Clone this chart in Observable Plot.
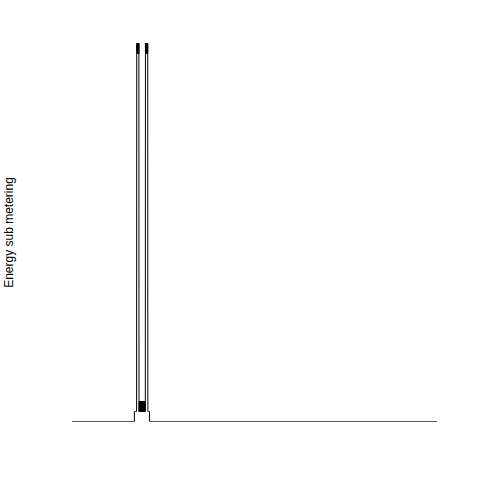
<!DOCTYPE html>
<html>
<head>
<meta charset="utf-8">
<script src="https://cdn.jsdelivr.net/npm/d3@7"></script>
<script src="https://cdn.jsdelivr.net/npm/@observablehq/plot@0.6"></script>
<style>
  html, body { margin: 0; padding: 0; background: white; }
</style>
</head>
<body>
<div id="chart"></div>
<script>
// Minute-by-minute readings over two days (2880 minutes); all minutes not listed read 0.
const totalMinutes = 2880;
const firstActiveMinute = 490;
const activeReadings = [
  1,1,1,1,1,1,1,1,1,1,1,1,1,1,1,1,1,1,
  37,38,37,38,38,37,38,37,38,37,38,38,37,38,37,38,37,38,
  2,1,2,1,2,2,1,2,1,2,1,1,2,1,2,1,2,2,1,2,1,2,1,2,1,2,2,1,2,1,2,1,2,1,1,2,1,2,1,2,2,1,2,1,2,1,2,1,2,1,2,
  38,37,38,37,38,38,37,38,37,38,37,38,37,38,38,37,38,37,38,
  1,1,1,1,1,1,1,1,1,1,1,1,1,1
];
const yLabel = "Energy sub metering";
const yMax = 38;

const series = Array.from({length: totalMinutes}, (_, m) => {
  const k = m - firstActiveMinute;
  return {minute: m, value: (k >= 0 && k < activeReadings.length) ? activeReadings[k] : 0};
});

const chart = Plot.plot({
  width: 480,
  height: 480,
  marginLeft: 72,
  marginRight: 44,
  marginTop: 43,
  marginBottom: 59,
  style: {background: "white"},
  x: {domain: [0, totalMinutes - 1], axis: null},
  y: {domain: [0, yMax], axis: null},
  marks: [
    Plot.lineY(series, {x: "minute", y: "value", stroke: "black", strokeWidth: 1}),
    Plot.text([yLabel], {
      text: d => d,
      frameAnchor: "left",
      dx: -63,
      rotate: -90,
      fontSize: 12,
      fontFamily: "Liberation Sans, Arial, sans-serif",
      fill: "black",
      textAnchor: "middle"
    })
  ]
});
document.getElementById("chart").appendChild(chart);
</script>
</body>
</html>
